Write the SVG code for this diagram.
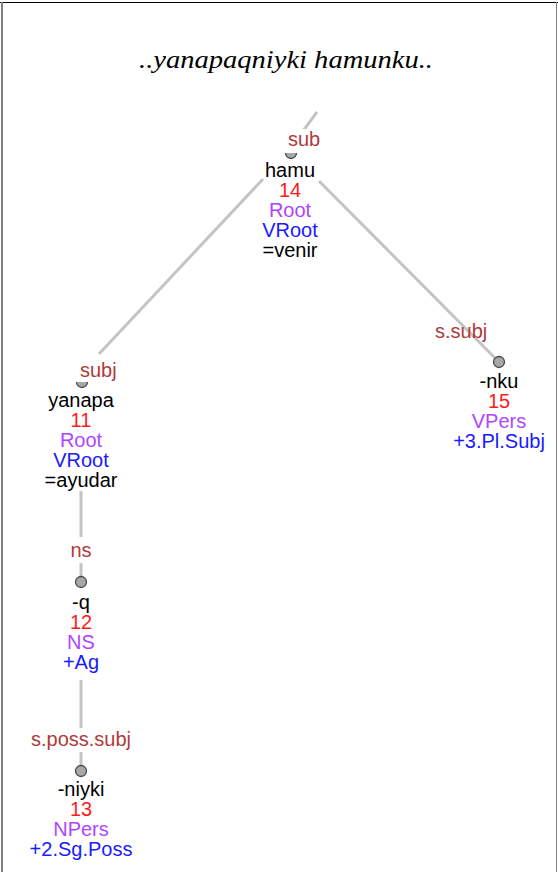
<svg xmlns="http://www.w3.org/2000/svg" width="558" height="872" viewBox="0 0 558 872">
<style>
.t{font-family:"Liberation Sans",Arial,sans-serif;font-size:20px;text-anchor:middle}
.lab{font-family:"Liberation Sans",Arial,sans-serif;font-size:20px;fill:#b03a3a}
.w{fill:#000}.n{fill:#ff1a1a}.c{fill:#b045ff}.b{fill:#1a1aff}
.e{stroke:#c4c4c4;stroke-width:3;fill:none;stroke-linecap:butt}
.dot{fill:#a8a8a8;stroke:#4a4a4a;stroke-width:1.3}
.bg{fill:#fff}
</style>
<rect x="0" y="0" width="558" height="872" fill="#fff"/>
<line x1="0" y1="2.5" x2="558" y2="2.5" stroke="#000" stroke-width="1.2"/>
<rect x="1" y="2" width="2" height="870" fill="#808080"/>
<line x1="556.5" y1="2" x2="556.5" y2="872" stroke="#808080" stroke-width="1"/>
<text x="286" y="68" font-family="'Liberation Serif','Times New Roman',serif" font-style="italic" font-size="25" text-anchor="middle" textLength="294" lengthAdjust="spacingAndGlyphs">..yanapaqniyki hamunku..</text>
<g id="connectors">
<line class="e" x1="317" y1="112" x2="303" y2="131"/>
<line class="e" x1="263" y1="179" x2="99" y2="354"/>
<line class="e" x1="319" y1="181" x2="499" y2="362"/>
<line class="e" x1="81" y1="491" x2="81" y2="537"/>
<line class="e" x1="81" y1="563" x2="81" y2="582"/>
<line class="e" x1="81" y1="680" x2="81" y2="728"/>
<line class="e" x1="81" y1="752" x2="81" y2="771"/>
</g>
<g id="node-hamu">
<circle class="dot" cx="291" cy="153" r="5.5"/>
<rect class="bg" x="284" y="129" width="38" height="24"/>
<text class="lab" x="288" y="146">sub</text>
<text class="t w" x="290" y="177">hamu</text>
<text class="t n" x="290" y="197">14</text>
<text class="t c" x="290" y="217">Root</text>
<text class="t b" x="290" y="237">VRoot</text>
<text class="t w" x="290" y="257">=venir</text>
</g>
<g id="node-yanapa">
<circle class="dot" cx="82" cy="382" r="5.5"/>
<rect class="bg" x="75" y="357" width="42" height="25"/>
<text class="lab" x="80" y="377">subj</text>
<text class="t w" x="81" y="407">yanapa</text>
<text class="t n" x="81" y="427">11</text>
<text class="t c" x="81" y="447">Root</text>
<text class="t b" x="81" y="467">VRoot</text>
<text class="t w" x="81" y="487">=ayudar</text>
</g>
<g id="node-nku">
<circle class="dot" cx="499" cy="362" r="5.5"/>
<text class="lab" x="435" y="338">s.subj</text>
<text class="t w" x="499" y="388">-nku</text>
<text class="t n" x="499" y="408">15</text>
<text class="t c" x="499" y="428">VPers</text>
<text class="t b" x="499" y="448">+3.Pl.Subj</text>
</g>
<g id="node-q">
<circle class="dot" cx="81" cy="582" r="5.5"/>
<text class="lab" x="81" y="557" text-anchor="middle">ns</text>
<text class="t w" x="81" y="609">-q</text>
<text class="t n" x="81" y="629">12</text>
<text class="t c" x="81" y="649">NS</text>
<text class="t b" x="81" y="669">+Ag</text>
</g>
<g id="node-niyki">
<circle class="dot" cx="81" cy="771" r="5.5"/>
<text class="lab" x="81" y="746" text-anchor="middle">s.poss.subj</text>
<text class="t w" x="81" y="796">-niyki</text>
<text class="t n" x="81" y="816">13</text>
<text class="t c" x="81" y="836">NPers</text>
<text class="t b" x="81" y="856">+2.Sg.Poss</text>
</g>
</svg>
